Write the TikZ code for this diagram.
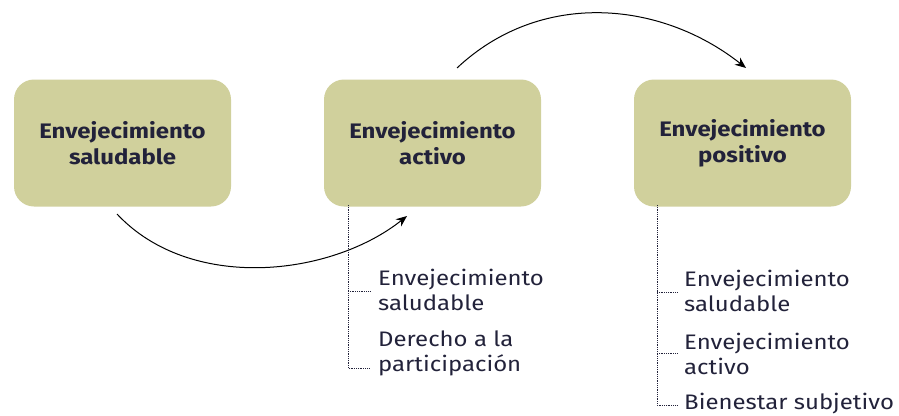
\documentclass[tikz,border=0pt]{standalone}
\usepackage{fontspec}
\setmainfont{Fira Sans}[FakeStretch=1.14]
\usetikzlibrary{arrows.meta}
\definecolor{boxfill}{HTML}{D0D09C}
\definecolor{ink}{HTML}{22223A}
\begin{document}
\begin{tikzpicture}[x=1pt,y=-1pt,
  stage/.style={fill=boxfill,rounded corners=20pt,minimum width=217pt,minimum height=127pt,
    align=center,text=ink,font=\fontsize{21}{26}\selectfont\bfseries,inner sep=0pt},
  item/.style={anchor=west,align=left,text=ink,font=\fontsize{21}{25}\selectfont,inner sep=0pt},
  dots/.style={densely dotted,line width=0.8pt,ink},
  flow/.style={-{Stealth[length=11pt,width=9pt]},line width=1pt,black}]
\useasboundingbox (0,0) rectangle (899,415);
\node[stage] (s1) at (122.5,143) {Envejecimiento\\saludable};
\node[stage] (s2) at (432.5,143) {Envejecimiento\\activo};
\node[stage] (s3) at (742.5,143) {Envejecimiento\\positivo};
% arrows
\coordinate (a1s) at (117,214);
\coordinate (a1e) at (407,216);
\coordinate (a2s) at (457,68);
\coordinate (a2e) at (746,68);
\draw[flow] (a1s) .. controls (190,292) and (330,277) .. (a1e);
\draw[flow] (a2s) .. controls (540,-10) and (660,0) .. (a2e);
% sub items activo
\node[item] (i21) at (378,289.5) {Envejecimiento\\saludable};
\node[item] (i22) at (378,353.5) {Derecho a la\\participación};
\coordinate (t2) at (348,205);
\coordinate (b21) at (348,291);
\coordinate (b22) at (348,368);
\draw[dots] (t2) -- (b22) -- (370,368);
\draw[dots] (b21) -- (370,291);
% sub items positivo
\node[item] (i31) at (684,290.5) {Envejecimiento\\saludable};
\node[item] (i32) at (684,353.5) {Envejecimiento\\activo};
\node[item] (i33) at (684,404) {Bienestar subjetivo};
\coordinate (t3) at (657,205);
\coordinate (b31) at (657,292);
\coordinate (b32) at (657,353);
\coordinate (b33) at (657,405);
\draw[dots] (t3) -- (b33) -- (678,405);
\draw[dots] (b31) -- (678,292);
\draw[dots] (b32) -- (678,353);
\end{tikzpicture}
\end{document}
